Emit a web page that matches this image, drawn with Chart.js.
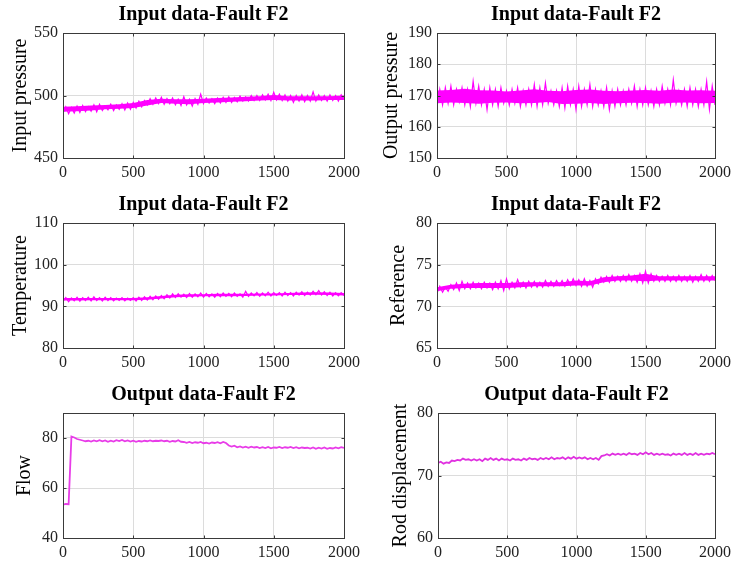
<!DOCTYPE html>
<html lang="en">
<head>
<meta charset="UTF-8">
<title>Fault F2 data</title>
<script src="https://cdn.jsdelivr.net/npm/chart.js"></script>
<style>
    body { margin: 0; background: #fff; }
    #page { position: relative; width: 736px; height: 567px; }
    .cell { position: absolute; }
</style>
</head>
<body>
<div id="page">
    <div class="cell" style="left:0;top:0"><canvas id="c1" width="368" height="190"></canvas></div>
    <div class="cell" style="left:368px;top:0"><canvas id="c2" width="368" height="190"></canvas></div>
    <div class="cell" style="left:0;top:190px"><canvas id="c3" width="368" height="190"></canvas></div>
    <div class="cell" style="left:368px;top:190px"><canvas id="c4" width="368" height="190"></canvas></div>
    <div class="cell" style="left:0;top:380px"><canvas id="c5" width="368" height="187"></canvas></div>
    <div class="cell" style="left:368px;top:380px"><canvas id="c6" width="368" height="187"></canvas></div>
</div>

<script>
// sample index, one reading every 20 samples (0..2000)
const sampleIdx = Array.from({ length: 101 }, (_, i) => i * 20);
// coarser index for the dense part of the noise band (every 100 samples)
const bandIdx = Array.from({ length: 21 }, (_, i) => i * 100);
const xTicks = [0, 500, 1000, 1500, 2000];

// values (peaks and troughs of the noisy traces)
const inputPressure = [
    486, 491, 485.5, 490.5, 486, 491.5, 486.5, 492, 487, 491, 487.5, 492.5, 487, 493, 488, 491.5, 488.5, 493, 488, 492.5,
    489, 493.5, 488.5, 494, 489, 494.5, 490, 495.5, 491, 496, 492.5, 497.5, 493, 498, 493.5, 498.5, 493, 497.5, 493.5, 498,
    492.5, 497, 492, 499, 492.5, 497, 491.5, 497.5, 493, 501, 493.5, 498, 494, 497.5, 493.5, 498, 494, 498.5, 494.5, 499,
    494.5, 498.5, 495, 499.5, 495.5, 499, 495.5, 500, 496, 500, 496, 500.5, 496.5, 501, 496, 502.5, 496.5, 501, 496, 500.5,
    495.5, 500, 494.5, 500, 495.5, 500.5, 495, 500, 495.5, 503, 495.5, 500.5, 496, 500, 495.5, 500.5, 496, 500, 495.5, 500.5,
    497
];
const inputPressureLo = [487, 487.5, 488, 489, 489.5, 490, 492, 494, 493.5, 493, 494, 494.5, 495, 495.5, 496, 496.5, 496, 496, 496, 496.5, 496.5];
const inputPressureHi = [491, 491.5, 492, 492.5, 493, 494, 496.5, 497.5, 497, 497, 497.5, 498, 498.5, 499, 499.5, 500.5, 499.5, 499.5, 499.5, 499.5, 500];

const outputPressure = [
    166.5, 172, 167, 172.5, 167.5, 173, 167, 172, 168, 172.5, 167, 172, 166.5, 174.5, 167.5, 173, 167, 172, 165.5, 172.5,
    167, 172, 166.5, 172.5, 167.5, 171.5, 167, 172, 167.5, 172.5, 166.5, 171.5, 167, 172, 167, 173.5, 166.5, 172.5, 167, 174,
    167.5, 171.5, 167, 171.5, 166.5, 172.5, 166, 173, 167, 172, 165.5, 173, 166.5, 172, 167, 173.5, 166.5, 172, 167, 171.5,
    166.5, 172.5, 165.5, 171.5, 166.5, 172, 167, 171.5, 167, 172, 167.5, 173, 166.5, 172, 167, 172.5, 167, 171.5, 166.5, 172,
    167, 173, 167.5, 172, 167, 175, 167.5, 171.5, 167, 172, 166.5, 172.5, 167, 172, 166.5, 172, 167, 174.5, 165.5, 173,
    167
];
const outputPressureLo = [167.5, 167.8, 167.6, 167.4, 167.7, 167.8, 167.5, 167.6, 167.9, 167.3, 167.4, 167.6, 167.3, 167.5, 167.7, 167.6, 167.4, 167.7, 167.8, 167.5, 167.6];
const outputPressureHi = [171.6, 171.8, 172.2, 171.7, 171.6, 171.3, 171.6, 172, 171.5, 171.4, 171.8, 171.9, 171.5, 171.4, 171.6, 171.8, 171.5, 171.9, 171.6, 171.7, 171.5];

const temperature = [
    91.2, 92.1, 91.1, 92.0, 91.3, 92.2, 91.2, 92.1, 91.4, 92.2, 91.3, 92.3, 91.4, 92.1, 91.3, 92.2, 91.4, 92.1, 91.3, 92.0,
    91.4, 92.1, 91.3, 92.0, 91.4, 92.1, 91.3, 92.2, 91.4, 92.3, 91.5, 92.4, 91.6, 92.5, 91.7, 92.6, 91.8, 92.8, 92.0, 93.0,
    92.1, 93.0, 92.2, 92.9, 92.1, 93.1, 92.2, 93.0, 92.3, 93.2, 92.2, 93.1, 92.3, 93.0, 92.2, 93.1, 92.3, 93.2, 92.4, 93.1,
    92.3, 93.2, 92.4, 93.0, 92.2, 93.6, 92.4, 93.2, 92.5, 93.3, 92.4, 93.2, 92.5, 93.4, 92.5, 93.3, 92.6, 93.3, 92.5, 93.4,
    92.6, 93.3, 92.5, 93.4, 92.7, 93.5, 92.6, 93.4, 92.7, 93.6, 92.8, 93.8, 92.7, 93.5, 92.6, 93.4, 92.5, 93.3, 92.5, 93.3,
    92.6
];
const temperatureLo = [91.4, 91.4, 91.45, 91.45, 91.45, 91.45, 91.6, 91.9, 92.2, 92.3, 92.4, 92.4, 92.4, 92.5, 92.6, 92.6, 92.7, 92.7, 92.8, 92.7, 92.6];
const temperatureHi = [92.0, 92.0, 92.0, 92.0, 92.0, 92.0, 92.2, 92.5, 92.8, 92.9, 92.9, 93.0, 93.0, 93.0, 93.1, 93.1, 93.2, 93.3, 93.4, 93.3, 93.2];

const reference = [
    71.6, 72.4, 71.7, 72.3, 71.8, 72.6, 72.0, 72.8, 71.9, 73.0, 72.1, 72.8, 72.1, 72.9, 72.2, 72.8, 72.1, 72.9, 72.2, 72.8,
    72.0, 72.9, 72.1, 73.1, 71.9, 73.3, 72.1, 72.9, 72.2, 73.2, 72.3, 72.9, 72.2, 73.0, 72.3, 73.0, 72.3, 72.9, 72.3, 73.1,
    72.4, 73.0, 72.4, 73.1, 72.5, 73.1, 72.4, 73.2, 72.5, 73.3, 72.5, 73.2, 72.4, 73.3, 72.4, 73.1, 72.3, 73.3, 72.7, 73.5,
    72.9, 73.6, 72.9, 73.7, 73.0, 73.6, 73.0, 73.7, 73.0, 73.8, 73.0, 73.7, 72.9, 73.9, 72.8, 74.2, 72.8, 73.9, 73.0, 73.7,
    73.0, 73.6, 73.0, 73.7, 73.0, 73.6, 73.0, 73.7, 73.0, 73.6, 73.0, 73.7, 72.9, 73.6, 73.0, 73.8, 73.0, 73.7, 73.0, 73.7,
    73.1
];
const referenceLo = [71.8, 72.1, 72.2, 72.2, 72.2, 72.2, 72.3, 72.4, 72.4, 72.4, 72.5, 72.5, 72.9, 73.1, 73.1, 73.0, 73.1, 73.1, 73.1, 73.1, 73.1];
const referenceHi = [72.3, 72.6, 72.7, 72.8, 72.8, 72.8, 72.9, 72.9, 72.9, 72.9, 73.1, 73.0, 73.5, 73.6, 73.7, 73.9, 73.6, 73.6, 73.6, 73.6, 73.6];

const flow = [
    53.3, 53.6, 53.5, 80.6, 80.2, 79.6, 79.3, 79.0, 78.7, 78.9, 78.6, 79.0, 78.7, 79.1, 78.7, 79.0, 78.5, 78.9, 78.6, 79.1,
    78.8, 79.2, 78.7, 79.0, 78.6, 78.9, 78.5, 78.8, 78.6, 78.9, 78.7, 79.0, 78.7, 78.9, 78.8, 79.0, 78.7, 78.9, 78.5, 78.8,
    78.6, 79.1, 78.5, 78.4, 78.1, 78.4, 78.0, 78.3, 78.1, 78.4, 77.9, 78.1, 77.8, 78.2, 78.0, 78.3, 77.9, 78.4, 78.0, 77.0,
    76.6, 76.9, 76.3, 76.6, 76.2, 76.5, 76.1, 76.5, 76.2, 76.4, 76.0, 76.3, 76.0, 76.4, 75.9, 76.2, 76.1, 76.4, 76.0, 76.3,
    76.1, 76.4, 76.0, 76.3, 75.9, 76.2, 76.0, 76.1, 75.8, 76.2, 75.7, 76.1, 75.8, 76.2, 75.7, 76.0, 75.8, 76.2, 75.9, 76.3,
    76.0
];
const rodDisplacement = [
    72.0, 72.2, 71.9, 72.1, 72.0, 72.4, 72.3, 72.5, 72.4, 72.7, 72.5, 72.6, 72.4, 72.6, 72.4, 72.6, 72.3, 72.7, 72.5, 72.8,
    72.5, 72.7, 72.4, 72.7, 72.5, 72.6, 72.4, 72.7, 72.5, 72.6, 72.4, 72.7, 72.5, 72.8, 72.6, 72.7, 72.5, 72.8, 72.6, 72.8,
    72.6, 72.9, 72.6, 72.8, 72.7, 72.9, 72.6, 72.9, 72.7, 73.0, 72.7, 72.9, 72.7, 72.9, 72.6, 72.8, 72.6, 72.8, 72.5, 73.1,
    73.2, 73.4, 73.2, 73.5, 73.3, 73.5, 73.3, 73.5, 73.3, 73.6, 73.4, 73.5, 73.3, 73.6, 73.4, 73.7, 73.4, 73.6, 73.3, 73.5,
    73.3, 73.5, 73.3, 73.4, 73.2, 73.5, 73.3, 73.5, 73.3, 73.6, 73.3, 73.5, 73.3, 73.6, 73.3, 73.5, 73.3, 73.5, 73.4, 73.6,
    73.4
];

const FONT = 'Liberation Serif';
const MAGENTA = '#ff00ff';

// box round the plot area, small inward ticks and a title centred over it, like a matlab axes
const axesPlugin = {
    id: 'axesBox',
    afterDraw(chart, args, opts) {
        const a = chart.chartArea, ctx = chart.ctx;
        const L = Math.round(a.left) + 0.5, R = Math.round(a.right) + 0.5;
        const T = Math.round(a.top) + 0.5, B = Math.round(a.bottom) + 0.5;
        ctx.save();
        ctx.strokeStyle = '#3a3a3a';
        ctx.lineWidth = 1;
        ctx.strokeRect(L, T, R - L, B - T);
        ctx.beginPath();
        chart.scales.x.ticks.forEach(t => {
            const px = Math.round(chart.scales.x.getPixelForValue(t.value)) + 0.5;
            ctx.moveTo(px, B); ctx.lineTo(px, B - 3);
            ctx.moveTo(px, T); ctx.lineTo(px, T + 3);
        });
        chart.scales.y.ticks.forEach(t => {
            const py = Math.round(chart.scales.y.getPixelForValue(t.value)) + 0.5;
            ctx.moveTo(L, py); ctx.lineTo(L + 3, py);
            ctx.moveTo(R, py); ctx.lineTo(R - 3, py);
        });
        ctx.stroke();
        ctx.fillStyle = '#000';
        ctx.font = 'bold 20px "' + FONT + '"';
        ctx.textAlign = 'center';
        ctx.textBaseline = 'middle';
        ctx.fillText(opts.title, (a.left + a.right) / 2, 15);
        ctx.restore();
    }
};

const pts = (xs, ys) => xs.map((x, i) => ({ x: x, y: ys[i] }));

function makePlot(id, title, yLabel, values, lo, hi, yMin, yMax, yStep, opt) {
    const datasets = [{
        data: pts(sampleIdx, values),
        borderColor: opt.color,
        borderWidth: opt.width,
        pointRadius: 0,
        tension: 0
    }];
    if (lo) {
        // dense core of the noise, filled between the two envelopes
        datasets.push({ data: pts(bandIdx, lo), borderWidth: 0, pointRadius: 0, fill: false });
        datasets.push({ data: pts(bandIdx, hi), borderWidth: 0, pointRadius: 0, fill: '-1',
            backgroundColor: MAGENTA });
    }
    new Chart(document.getElementById(id), {
        type: 'line',
        data: { datasets: datasets },
        options: {
            responsive: false,
            animation: false,
            layout: { padding: { left: 0, right: opt.right, top: 33, bottom: 0 } },
            plugins: {
                legend: { display: false },
                tooltip: { enabled: false },
                axesBox: { title: title }
            },
            scales: {
                x: {
                    type: 'linear',
                    min: 0, max: 2000,
                    afterBuildTicks: s => { s.ticks = xTicks.map(v => ({ value: v })); },
                    afterFit: s => { s.height = opt.xh; },
                    grid: { color: '#dcdcdc', drawTicks: false },
                    border: { display: false },
                    ticks: { color: '#222', padding: 5, maxRotation: 0, callback: v => String(v),
                        font: { family: FONT, size: 16 } }
                },
                y: {
                    min: yMin, max: yMax,
                    afterFit: s => { s.width = opt.left; },
                    grid: { color: '#dcdcdc', drawTicks: false },
                    border: { display: false },
                    ticks: { stepSize: yStep, includeBounds: false, color: '#222', padding: 5,
                        callback: v => String(v), font: { family: FONT, size: 16 } },
                    title: {
                        display: true, text: yLabel, color: '#000',
                        font: { family: FONT, size: 20 },
                        padding: { top: opt.lab, bottom: 0 }
                    }
                }
            }
        },
        plugins: [axesPlugin]
    });
}

const noisy = { color: MAGENTA, width: 1.2 };
makePlot('c1', 'Input data-Fault F2', 'Input pressure', inputPressure, inputPressureLo, inputPressureHi, 450, 550, 50,
    Object.assign({ left: 63, right: 24, xh: 32, lab: 9 }, noisy));
makePlot('c2', 'Input data-Fault F2', 'Output pressure', outputPressure, outputPressureLo, outputPressureHi, 150, 190, 10,
    Object.assign({ left: 69, right: 18, xh: 32, lab: 12 }, noisy));
makePlot('c3', 'Input data-Fault F2', 'Temperature', temperature, temperatureLo, temperatureHi, 80, 110, 10,
    Object.assign({ left: 63, right: 24, xh: 32, lab: 9 }, noisy));
makePlot('c4', 'Input data-Fault F2', 'Reference', reference, referenceLo, referenceHi, 65, 80, 5,
    Object.assign({ left: 69, right: 18, xh: 32, lab: 19 }, noisy));
makePlot('c5', 'Output data-Fault F2', 'Flow', flow, null, null, 40, 90, 20,
    { left: 63, right: 24, xh: 29, lab: 13, color: '#e83ce8', width: 1.8 });
makePlot('c6', 'Output data-Fault F2', 'Rod displacement', rodDisplacement, null, null, 60, 80, 10,
    { left: 70, right: 18, xh: 29, lab: 21, color: '#e030e0', width: 1.8 });
</script>
</body>
</html>
